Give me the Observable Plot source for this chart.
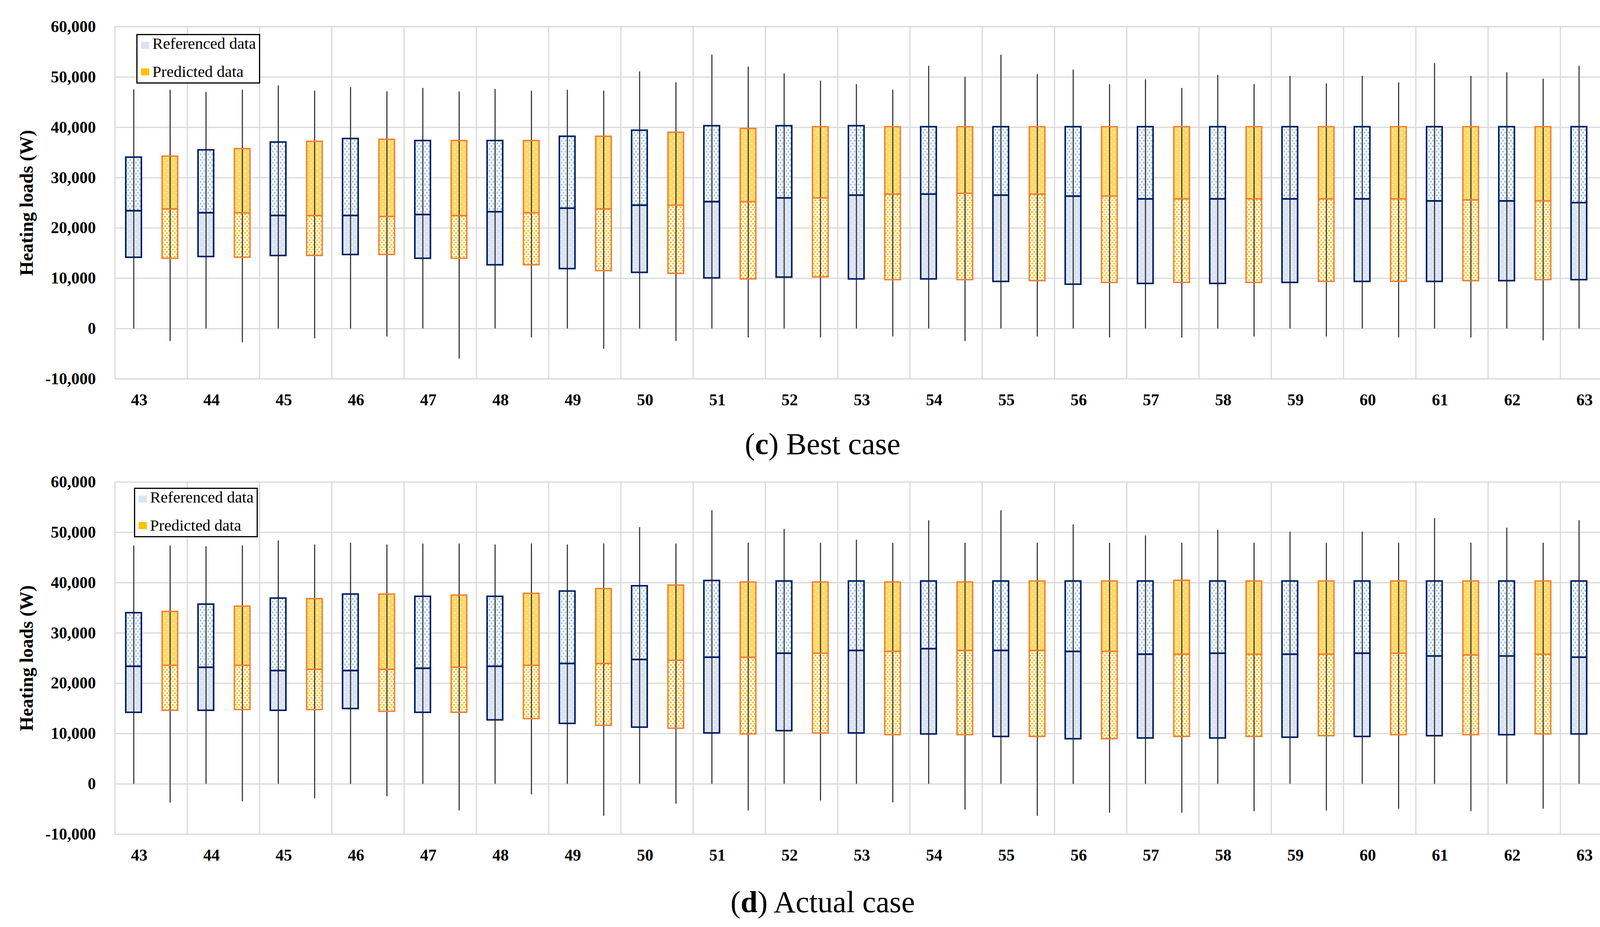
<!DOCTYPE html>
<html>
<head>
<meta charset="utf-8">
<script src="https://cdn.jsdelivr.net/npm/d3@7"></script>
<script src="https://cdn.jsdelivr.net/npm/@observablehq/plot@0.6"></script>
<style>
  html, body { margin: 0; padding: 0; background: #fff; }
  #page { position: relative; width: 4242px; height: 2374px; overflow: hidden; background: #fff;
          font-family: "Liberation Serif", "Times New Roman", serif; }
  .panel { position: absolute; left: 0; width: 4242px; }
  .overlay { position: absolute; left: 0; top: 0; }
  g[aria-label="xlabels"] text { letter-spacing: 4px; }
</style>
</head>
<body>
<svg width="0" height="0" style="position:absolute">
  <defs>
    <pattern id="refUp" patternUnits="userSpaceOnUse" width="10" height="14">
      <rect width="10" height="14" fill="#ffffff"/>
      <rect x="1" y="1" width="4" height="5" fill="#9DC3E6"/>
      <rect x="6" y="8" width="4" height="5" fill="#9DC3E6"/>
    </pattern>
    <pattern id="refLo" patternUnits="userSpaceOnUse" width="16" height="14">
      <rect width="16" height="14" fill="#DAE3F3"/>
      <rect x="3" y="3" width="3" height="2" fill="#ffffff"/>
      <rect x="11" y="10" width="3" height="2" fill="#ffffff"/>
    </pattern>
    <pattern id="predUp" patternUnits="userSpaceOnUse" width="16" height="14">
      <rect width="16" height="14" fill="#FFD966"/>
      <rect x="3" y="3" width="3" height="2" fill="#ffffff"/>
      <rect x="11" y="10" width="3" height="2" fill="#ffffff"/>
    </pattern>
    <pattern id="predLo" patternUnits="userSpaceOnUse" width="10" height="12">
      <rect width="10" height="12" fill="#ffffff"/>
      <rect x="0" y="1" width="5" height="4" fill="#FFC000"/>
      <rect x="5" y="7" width="5" height="4" fill="#FFC000"/>
    </pattern>
  </defs>
</svg>
<div id="page">
  <div class="panel" id="top" style="top:0px"></div>
  <div class="panel" id="bottom" style="top:1166px"></div>
  <svg class="overlay" id="overlay" width="4242" height="2374"></svg>
</div>
<script>
// ---------- data ----------
const cases = [43, 44, 45, 46, 47, 48, 49, 50, 51, 52, 53, 54, 55, 56, 57, 58, 59, 60, 61, 62, 63];
const yTicks = [-10000, 0, 10000, 20000, 30000, 40000, 50000, 60000];
const seriesNames = ["Referenced data", "Predicted data"];
const captions = [["c", " Best case"], ["d", " Actual case"]];
const yTitle = "Heating loads (W)";

// (c) Best case — Referenced
const bestRefMax = [47500, 47000, 48300, 47950, 47800, 47600, 47450, 51100, 54400, 50700, 48550, 52200, 54400, 51450, 49500, 50400, 50200, 50200, 52750, 50900, 52200];
const bestRefQ3  = [34050, 35500, 37050, 37750, 37350, 37350, 38200, 39400, 40300, 40300, 40300, 40100, 40100, 40100, 40100, 40100, 40100, 40100, 40100, 40100, 40100];
const bestRefMed = [23400, 23000, 22450, 22450, 22650, 23200, 23900, 24500, 25200, 25950, 26500, 26700, 26500, 26300, 25750, 25750, 25750, 25750, 25350, 25350, 25000];
const bestRefQ1  = [14150, 14300, 14500, 14700, 13950, 12650, 11900, 11150, 10050, 10200, 9850, 9850, 9350, 8800, 8950, 8950, 9150, 9350, 9350, 9500, 9700];
const bestRefMin = [0, 0, 0, 0, 0, 0, 0, 0, 0, 0, 0, 0, 0, 0, 0, 0, 0, 0, 0, 0, 0];
// (c) Best case — Predicted
const bestPredMax = [47450, 47450, 47250, 47100, 47100, 47250, 47250, 48900, 52050, 49250, 47450, 50000, 50550, 48550, 47800, 48550, 48700, 48900, 50200, 49650, 49650];
const bestPredQ3  = [34250, 35750, 37200, 37600, 37350, 37350, 38200, 39000, 39750, 40100, 40100, 40100, 40100, 40100, 40100, 40100, 40100, 40100, 40100, 40100, 40100];
const bestPredMed = [23750, 23000, 22450, 22250, 22450, 23000, 23750, 24500, 25200, 25950, 26700, 26850, 26700, 26300, 25750, 25750, 25750, 25750, 25550, 25350, 25200];
const bestPredQ1  = [13950, 14150, 14500, 14700, 13950, 12650, 11500, 10950, 9850, 10250, 9700, 9700, 9500, 9150, 9150, 9150, 9350, 9350, 9500, 9700, 9700];
const bestPredMin = [-2500, -2750, -1950, -1600, -6000, -1800, -4050, -2500, -1800, -1800, -1600, -2500, -1600, -1800, -1800, -1600, -1600, -1800, -1800, -2350, -2200];

// (d) Actual case — Referenced
const actRefMax = [47350, 47200, 48350, 47900, 47750, 47550, 47550, 51000, 54350, 50650, 48500, 52350, 54350, 51550, 49350, 50450, 50100, 50100, 52800, 50900, 52350];
const actRefQ3  = [34000, 35700, 36900, 37700, 37250, 37250, 38300, 39350, 40400, 40300, 40300, 40300, 40300, 40300, 40300, 40300, 40300, 40300, 40300, 40300, 40300];
const actRefMed = [23350, 23150, 22500, 22500, 22950, 23350, 23900, 24700, 25150, 25950, 26500, 26850, 26500, 26300, 25750, 25950, 25750, 25950, 25400, 25400, 25150];
const actRefQ1  = [14200, 14600, 14600, 14950, 14200, 12700, 12000, 11250, 10100, 10550, 10100, 9900, 9400, 8950, 9100, 9100, 9250, 9400, 9550, 9750, 9900];
const actRefMin = [0, 0, 0, 0, 0, 0, 0, 0, 0, 0, 0, 0, 0, 0, 0, 0, 0, 0, 0, 0, 0];
// (d) Actual case — Predicted
const actPredMax = [47350, 47350, 47550, 47550, 47750, 47750, 47750, 47750, 47900, 47900, 47900, 47900, 47900, 47900, 47900, 47900, 47900, 47900, 47900, 47900, 47900];
const actPredQ3  = [34250, 35300, 36800, 37700, 37500, 37850, 38800, 39500, 40100, 40100, 40100, 40100, 40300, 40300, 40450, 40300, 40300, 40300, 40300, 40300, 40300];
const actPredMed = [23550, 23550, 22750, 22750, 23150, 23550, 23900, 24550, 25150, 25950, 26300, 26500, 26500, 26300, 25750, 25750, 25750, 25950, 25600, 25750, 25950];
const actPredQ1  = [14600, 14750, 14750, 14400, 14200, 12950, 11600, 11050, 9900, 10100, 9750, 9750, 9400, 8950, 9400, 9400, 9550, 9750, 9750, 9900, 10100];
const actPredMin = [-3750, -3500, -2900, -2500, -5300, -2100, -6350, -3950, -5300, -3350, -3700, -5150, -6350, -5750, -5750, -5450, -5300, -4950, -5450, -4950, -5150];

// ---------- styling ----------
const FONT = "Liberation Serif, Times New Roman, serif";
const REF_OFF = -0.241, PRED_OFF = 0.262, HALF = 0.108, LABEL_OFF = -0.165;
const NAVY = "#002060", ORANGE = "#ED7D31", WHISK = "#404040", GRID = "#D9D9D9";
const fmt = v => (v < 0 ? "-" : "") + d3.format(",")(Math.abs(v));
const xGrid = cases.map(c => c - 0.5).concat([cases[cases.length - 1] + 0.5]);

function makeBoxes(min, q1, med, q3, max, off) {
  return cases.map((c, i) => ({x: c + off, min: min[i], q1: q1[i], med: med[i], q3: q3[i], max: max[i]}));
}

function seriesMarks(b, lo, up, stroke, sw) {
  const x1 = d => d.x - HALF, x2 = d => d.x + HALF;
  return [
    Plot.rect(b, {x1, x2, y1: "q1", y2: "med", fill: lo}),
    Plot.rect(b, {x1, x2, y1: "med", y2: "q3", fill: up}),
    Plot.ruleX(b, {x: "x", y1: "min", y2: "max", stroke: WHISK, strokeWidth: 3}),
    Plot.rect(b, {x1, x2, y1: "q1", y2: "med", fill: "none", stroke, strokeWidth: sw}),
    Plot.rect(b, {x1, x2, y1: "med", y2: "q3", fill: "none", stroke, strokeWidth: sw})
  ];
}

function panel(ref, pred) {
  return Plot.plot({
    width: 4242, height: 1070,
    marginTop: 68, marginBottom: 100, marginLeft: 294, marginRight: 63,
    x: {type: "linear", domain: [xGrid[0], xGrid[xGrid.length - 1]], axis: null},
    y: {domain: [yTicks[0], yTicks[yTicks.length - 1]], axis: null},
    style: {fontFamily: FONT, background: "transparent", overflow: "visible"},
    marks: [
      Plot.gridY(yTicks, {stroke: GRID, strokeOpacity: 1, strokeWidth: 3}),
      Plot.gridX(xGrid, {stroke: GRID, strokeOpacity: 1, strokeWidth: 3}),
      ...seriesMarks(ref, "url(#refLo)", "url(#refUp)", NAVY, 4),
      ...seriesMarks(pred, "url(#predLo)", "url(#predUp)", ORANGE, 3.5),
      Plot.text(yTicks, {y: d => d, frameAnchor: "left", dx: -49, textAnchor: "end", text: fmt,
        fontSize: 42, fontWeight: "bold", fill: "#000"}),
      Plot.text(cases, {x: d => d + LABEL_OFF, y: () => yTicks[0], dy: 54, text: d => String(d),
        fontSize: 42, fontWeight: "bold", fill: "#000", ariaLabel: "xlabels"}),
      Plot.text([yTitle], {frameAnchor: "left", textAnchor: "middle", lineAnchor: "middle", rotate: -90, dx: -226,
        text: d => d, fontSize: 48, fontWeight: "bold", fill: "#000"})
    ]
  });
}

document.getElementById("top").appendChild(panel(
  makeBoxes(bestRefMin, bestRefQ1, bestRefMed, bestRefQ3, bestRefMax, REF_OFF),
  makeBoxes(bestPredMin, bestPredQ1, bestPredMed, bestPredQ3, bestPredMax, PRED_OFF)));
document.getElementById("bottom").appendChild(panel(
  makeBoxes(actRefMin, actRefQ1, actRefMed, actRefQ3, actRefMax, REF_OFF),
  makeBoxes(actPredMin, actPredQ1, actPredMed, actPredQ3, actPredMax, PRED_OFF)));

// ---------- legends & captions ----------
const ov = d3.select("#overlay");
const swatch = ["#DAE3F3", "#FFC000"];
[[349, 87], [343, 1249]].forEach(([lx, ly]) => {
  const g = ov.append("g").attr("transform", `translate(${lx},${ly})`);
  g.append("rect").attr("x", 1.5).attr("y", 1.5).attr("width", 314).attr("height", 124)
    .attr("fill", "#fff").attr("stroke", "#000").attr("stroke-width", 3);
  seriesNames.forEach((name, i) => {
    g.append("rect").attr("x", 12).attr("y", 20 + i * 68).attr("width", 21).attr("height", 18).attr("fill", swatch[i]);
    g.append("text").attr("x", 41).attr("y", 38 + i * 72).attr("font-family", FONT).attr("font-size", 41)
      .attr("fill", "#000").text(name);
  });
});
[[2106, 1163], [2106, 2336]].forEach(([cx, cy], i) => {
  const t = ov.append("text").attr("x", cx).attr("y", cy).attr("text-anchor", "middle")
    .attr("font-family", FONT).attr("font-size", 78).attr("fill", "#000");
  t.append("tspan").text("(");
  t.append("tspan").attr("font-weight", "bold").text(captions[i][0]);
  t.append("tspan").text(")" + captions[i][1]);
});
</script>
</body>
</html>
